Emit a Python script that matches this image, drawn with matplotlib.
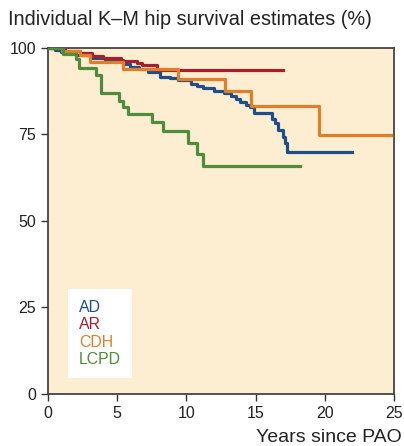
import matplotlib.pyplot as plt

plt.rcParams["font.family"] = ["Liberation Sans", "DejaVu Sans"]

# Kaplan-Meier step data (years since PAO, survival %)
ad_t = [0, 0.5, 0.9, 2.0, 3.0, 4.1, 5.4, 5.9, 6.6, 7.2, 8.1, 8.8, 9.4, 10.3, 10.8,
        11.2, 12.0, 12.7, 13.2, 13.6, 13.9, 14.3, 14.6, 14.9, 16.2, 16.4, 16.6,
        17.0, 17.1, 17.3, 22.0]
ad_v = [100, 99.4, 98.8, 98.0, 97.1, 96.5, 95.4, 94.5, 93.8, 93.1, 91.6, 91.2, 90.8,
        89.6, 89.0, 88.4, 87.6, 87.0, 86.1, 85.3, 84.4, 83.5, 82.9, 81.1, 79.6,
        78.3, 76.4, 74.3, 72.4, 69.9, 69.9]

ar_t = [0, 1.2, 2.3, 3.2, 4.0, 5.3, 6.4, 6.8, 7.9, 17.0]
ar_v = [100, 99.2, 98.5, 97.8, 97.0, 96.3, 95.7, 95.0, 93.7, 93.7]

cdh_t = [0, 1.0, 2.3, 3.0, 5.4, 9.4, 12.8, 14.7, 19.6, 24.8]
cdh_v = [100, 99.2, 98.0, 95.8, 93.8, 91.0, 87.5, 83.2, 74.9, 74.9]

lcpd_t = [0, 1.1, 2.0, 2.2, 3.5, 3.8, 5.1, 5.4, 5.8, 7.5, 8.3, 10.1, 10.8, 11.2, 18.2]
lcpd_v = [100, 98.2, 96.8, 94.2, 92.2, 87.0, 84.6, 82.9, 80.9, 78.6, 76.0, 72.5,
          69.4, 65.9, 65.9]

labels = ["AD", "AR", "CDH", "LCPD"]
colors = ["#1f4f8a", "#a3202c", "#e07f2a", "#4f8c3b"]

fig = plt.figure(figsize=(4.04, 4.46), dpi=100)
ax = fig.add_axes([0.119, 0.1166, 0.856, 0.776])
ax.set_facecolor("#fdeed2")

series = [(ad_t, ad_v), (ar_t, ar_v), (cdh_t, cdh_v), (lcpd_t, lcpd_v)]
order = [3, 0, 2, 1]
for i in order:
    t, v = series[i]
    ax.step(t, v, where="post", color=colors[i], lw=2.3, label=labels[i], zorder=3 + i)

ax.set_xlim(0, 25)
ax.set_ylim(0, 100)
ax.set_xticks([0, 5, 10, 15, 20, 25])
ax.set_yticks([0, 25, 50, 75, 100])
ax.tick_params(direction="out", length=5, width=1, colors="#333333",
               labelsize=11.5, labelcolor="#222222")
for s in ax.spines.values():
    s.set_color("#444444")
    s.set_linewidth(1.3)

fig.text(0.02, 0.957, "Individual K\u2013M hip survival estimates (%)",
         fontsize=14.3, color="#222222", ha="left", va="center")
fig.text(0.995, 0.001, "Years since PAO", fontsize=14, color="#222222",
         ha="right", va="bottom")

handles, labs = ax.get_legend_handles_labels()
hmap = dict(zip(labs, handles))
leg = ax.legend([hmap[l] for l in labels], labels, loc="lower left",
                bbox_to_anchor=(0.058, 0.046), borderaxespad=0,
                handlelength=0, handletextpad=0,
                labelcolor=colors, fontsize=11.4, frameon=True, fancybox=False,
                borderpad=0.7, labelspacing=0.15)
for h in leg.legend_handles:
    h.set_visible(False)
leg.get_frame().set_facecolor("white")
leg.get_frame().set_edgecolor("none")
leg.get_frame().set_alpha(1)
leg.set_zorder(10)

fig.savefig("out.png", dpi=100)
